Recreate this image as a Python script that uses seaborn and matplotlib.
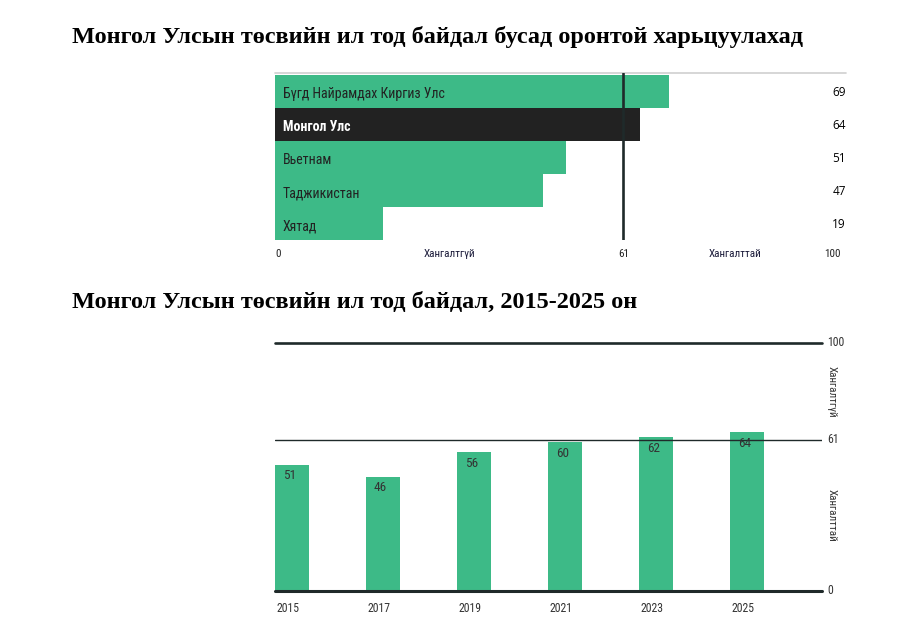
import matplotlib
matplotlib.use("Agg")
import matplotlib.pyplot as plt
from matplotlib import font_manager
import seaborn as sns
import pandas as pd

# ---------------- data ----------------
countries = ["Бүгд Найрамдах Киргиз Улс", "Монгол Улс", "Вьетнам", "Таджикистан", "Хятад"]
country_scores = [69, 64, 51, 47, 19]
highlight = "Монгол Улс"
threshold = 61

years = ["2015", "2017", "2019", "2021", "2023", "2025"]
year_scores = [51, 46, 56, 60, 62, 64]

title1 = "Монгол Улсын төсвийн ил тод байдал бусад оронтой харьцуулахад"
title2 = "Монгол Улсын төсвийн ил тод байдал, 2015-2025 он"
lbl_bad = "Хангалтгүй"
lbl_good = "Хангалттай"

GREEN = "#3dba87"
DARK = "#222222"
LINE = "#1f2a2a"

sns.set_theme(style="white")
names = {f.name for f in font_manager.fontManager.ttflist}
cond = None
for cand in ["Liberation Sans Narrow", "Roboto Condensed", "Arial Narrow", "Open Sans Condensed"]:
    if cand in names:
        cond = cand
        break
COND = dict(family=[cond, "DejaVu Sans"]) if cond else dict(family=["DejaVu Sans"], stretch="condensed")
SERIF = dict(family=["Liberation Serif", "DejaVu Serif"], weight="bold")
plt.rcParams["font.family"] = ["DejaVu Sans"]

fig = plt.figure(figsize=(9.02, 6.35), dpi=100)
W, H = 902, 635

def axes_px(x0, y0, x1, y1):
    return fig.add_axes([x0 / W, 1 - y1 / H, (x1 - x0) / W, (y1 - y0) / H])

# ---------------- chart 1 ----------------
ax1 = axes_px(275, 73, 846, 240)
df1 = pd.DataFrame({"country": countries, "score": country_scores})
pal = [DARK if c == highlight else GREEN for c in countries]
sns.barplot(data=df1, y="country", x="score", hue="country", palette=pal,
            orient="h", width=1.0, legend=False, ax=ax1, saturation=1, linewidth=0)
ax1.set_xlim(0, 100)
ax1.set_ylim(len(countries) - 0.5, -0.56)
for s in ax1.spines.values():
    s.set_visible(False)
ax1.axhline(-0.56, color="#cfcfcf", lw=1.2, clip_on=False)
ax1.axvline(threshold, color=LINE, lw=1.9)
ax1.set_xticks([]); ax1.set_yticks([])
ax1.set_xlabel(""); ax1.set_ylabel("")
for i, (c, v) in enumerate(zip(countries, country_scores)):
    is_h = c == highlight
    ax1.text(1.4, i + 0.08, c, va="center", ha="left", fontsize=10,
             color="white" if is_h else DARK, weight="bold" if is_h else "normal", **COND)
    ax1.text(100.0, i + 0.03, str(v), va="center", ha="right", fontsize=8.5, color="black",
             family=["Open Sans", "DejaVu Sans"])
ybot = len(countries) - 0.5
off = 0.42
bt = dict(fontsize=8, color=DARK, va="center", **COND)
ax1.text(0, ybot + off, "0", ha="left", **bt)
ax1.text(threshold / 2, ybot + off, lbl_bad, ha="center", **{**bt, "color": "#1b1b3a"})
ax1.text(threshold, ybot + off, str(threshold), ha="center", **bt)
ax1.text((threshold + 100) / 2, ybot + off, lbl_good, ha="center", **{**bt, "color": "#1b1b3a"})
ax1.text(99, ybot + off, "100", ha="right", **bt)

# ---------------- chart 2 ----------------
ax2 = axes_px(275, 343, 822, 591)
df2 = pd.DataFrame({"year": years, "score": year_scores})
bw = 0.374
sns.barplot(data=df2, x="year", y="score", color=GREEN, width=bw, ax=ax2, saturation=1, linewidth=0)
ax2.set_ylim(0, 100)
ax2.set_xlim(-0.187, len(years) - 1 + 0.824)
for s in ax2.spines.values():
    s.set_visible(False)
ax2.axhline(100, color=LINE, lw=1.9, clip_on=False)
ax2.axhline(threshold, color=LINE, lw=1.0)
ax2.axhline(0, color=LINE, lw=2.2, clip_on=False)
ax2.set_yticks([])
ax2.set_xticks([i - bw / 2 + 0.02 for i in range(len(years))])
ax2.set_xticklabels(years, ha="left", fontsize=8.5, color="#333333", **COND)
ax2.tick_params(axis="x", length=0, pad=8)
ax2.set_xlabel(""); ax2.set_ylabel("")
for i, v in enumerate(year_scores):
    ax2.text(i - 0.03, v - 4.4, str(v), ha="center", va="center", fontsize=9.5,
             color="#333333", **COND)
rt = dict(fontsize=8.5, color="#333333", va="center", ha="left", **COND)
xr = 1.01
ax2.text(xr, 100, "100", transform=ax2.get_yaxis_transform(), **rt)
ax2.text(xr, threshold, str(threshold), transform=ax2.get_yaxis_transform(), **rt)
ax2.text(xr, 0, "0", transform=ax2.get_yaxis_transform(), **rt)
ax2.text(xr - 0.002, (threshold + 100) / 2, lbl_bad, transform=ax2.get_yaxis_transform(),
         rotation=270, fontsize=8, color="#333333", va="center", ha="left", **COND)
ax2.text(xr - 0.002, threshold / 2, lbl_good, transform=ax2.get_yaxis_transform(),
         rotation=270, fontsize=8, color="#333333", va="center", ha="left", **COND)

# ---------------- titles ----------------
fig.text(72 / W, 1 - 43 / H, title1, ha="left", va="baseline", fontsize=17.5, color="black", **SERIF)
fig.text(72 / W, 1 - 308 / H, title2, ha="left", va="baseline", fontsize=17.5, color="black", **SERIF)

fig.savefig("out.png", dpi=100)
